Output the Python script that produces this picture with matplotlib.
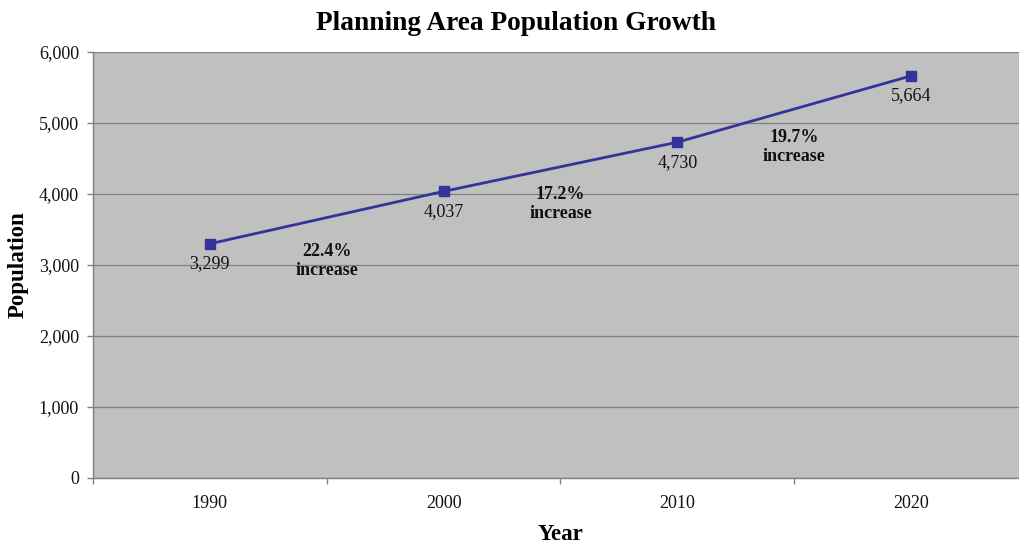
import matplotlib
matplotlib.use("Agg")
import matplotlib.pyplot as plt

# Population by census year
years = ["1990", "2000", "2010", "2020"]
population = [3299, 4037, 4730, 5664]

# Growth between consecutive years and where each note sits (value axis)
growth_labels = ["22.4%\nincrease", "17.2%\nincrease", "19.7%\nincrease"]
growth_y = [3057, 3862, 4662]

plt.rcParams["font.family"] = ["Liberation Serif", "DejaVu Serif"]

fig = plt.figure(figsize=(10.2, 5.46), dpi=100)
ax = fig.add_axes([93 / 1020, 68 / 546, 935 / 1020, 426 / 546])

ax.set_facecolor("#C0C0C0")
x = list(range(len(years)))
ax.plot(x, population, color="#333399", lw=2, marker="s", ms=6.5,
        markerfacecolor="#333399", markeredgecolor="#333399", zorder=3)

for xi, v in zip(x, population):
    ax.annotate(f"{v:,}", (xi, v), xytext=(0, -14.5), textcoords="offset points",
                ha="center", va="center", fontsize=13, color="#111111")

for i, (lab, gy) in enumerate(zip(growth_labels, growth_y)):
    ax.text(i + 0.5, gy, lab, ha="center", va="center", fontsize=13,
            fontweight="bold", linespacing=1.15, color="#111111")

ax.set_xlim(-0.5, len(years) - 0.5)
ax.set_ylim(0, 6000)
ax.set_yticks(range(0, 6001, 1000))
ax.set_yticklabels([f"{t:,}" for t in range(0, 6001, 1000)])
ax.set_xticks(x)
ax.set_xticklabels(years)
ax.set_xticks([i + 0.5 for i in range(-1, len(years))], minor=True)

ax.yaxis.grid(True, color="#808080", lw=0.9)
ax.set_axisbelow(True)
for s in ["top", "right"]:
    ax.spines[s].set_visible(False)
for s in ["left", "bottom"]:
    ax.spines[s].set_color("#808080")
    ax.spines[s].set_linewidth(1)

ax.tick_params(axis="y", length=4, width=1, color="#808080", pad=6,
               labelsize=13, labelcolor="#111111")
ax.tick_params(axis="x", which="major", length=0, pad=12,
               labelsize=13, labelcolor="#111111")
ax.tick_params(axis="x", which="minor", length=4, width=1, color="#808080")

fig.text(516 / 1020, 1 - 24 / 546, "Planning Area Population Growth",
         ha="center", va="center", fontsize=19.7, fontweight="bold")
fig.text(561 / 1020, 1 - 534 / 546, "Year", ha="center", va="center",
         fontsize=16.5, fontweight="bold")
fig.text(18 / 1020, 1 - 265 / 546, "Population", ha="center", va="center",
         rotation=90, fontsize=16.5, fontweight="bold")

fig.savefig("out.png", dpi=100)
